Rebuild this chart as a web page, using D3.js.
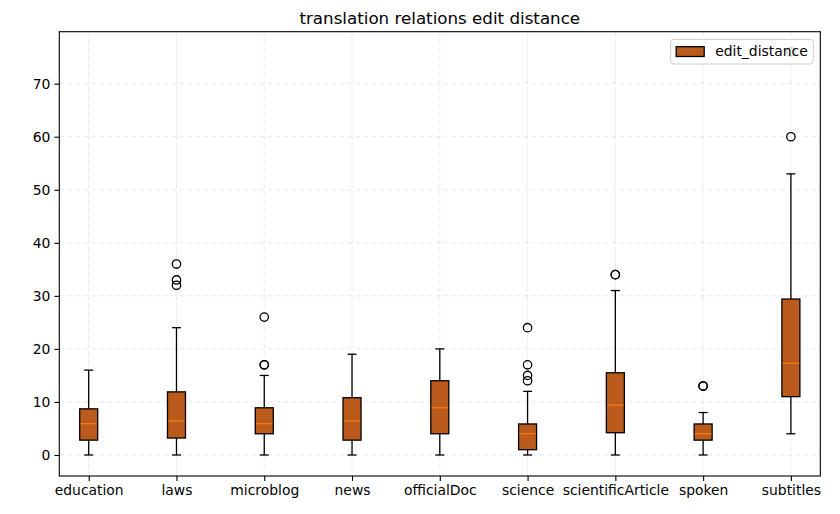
<!DOCTYPE html>
<html>
<head>
<meta charset="utf-8">
<script src="https://cdn.jsdelivr.net/npm/d3@7"></script>
<style>
  body { margin: 0; background: #fff; }
  svg { font-family: "DejaVu Sans", sans-serif; }
</style>
</head>
<body>
<div id="chart"></div>
<script>
// Data
var categories = ["education", "laws", "microblog", "news", "officialDoc", "science", "scientificArticle", "spoken", "subtitles"];
var q1 = [2.8, 3.2, 4, 2.8, 4, 1, 4.2, 2.8, 11];
var medians = [5.9, 6.4, 5.9, 6.4, 8.9, 4, 9.4, 4, 17.3];
var q3 = [8.7, 11.9, 8.9, 10.8, 14, 5.85, 15.5, 5.85, 29.4];
var whiskerLow = [0, 0, 0, 0, 0, 0, 0, 0, 4];
var whiskerHigh = [16, 24, 15, 19, 20, 12, 31, 8, 53];
var outliers = [[], [32, 33, 36], [17, 17, 26], [], [], [14, 15, 17, 24], [34, 34], [13, 13], [60, 76]];
var yTicks = [0, 10, 20, 30, 40, 50, 60, 70];

// Sizing
var width = 840;
var height = 514;
var margin = { top: 31.7, right: 19.7, bottom: 38, left: 59.3 };

var fillColor = "#ba5b1d";
var medianColor = "#ff7f0e";

var svg = d3.select("#chart")
    .append("svg")
    .attr("width", width)
    .attr("height", height);

var x = d3.scaleLinear()
    .domain([0.665, 9.335])
    .range([margin.left, width - margin.right]);

var y = d3.scaleLinear()
    .domain([-3.96, 79.8])
    .range([height - margin.bottom, margin.top]);

var boxW = 0.205;

// Grid
var grid = svg.append("g");
grid.selectAll(".gx")
    .data(categories)
    .enter()
    .append("line")
    .attr("x1", (d, i) => x(i + 1))
    .attr("x2", (d, i) => x(i + 1))
    .attr("y1", y.range()[0])
    .attr("y2", y.range()[1]);
grid.selectAll(".gy")
    .data(yTicks)
    .enter()
    .append("line")
    .attr("x1", x.range()[0])
    .attr("x2", x.range()[1])
    .attr("y1", d => y(d))
    .attr("y2", d => y(d));
grid.selectAll("line")
    .attr("stroke", "#b0b0b0")
    .attr("stroke-opacity", 0.35)
    .attr("stroke-width", 0.8)
    .attr("stroke-dasharray", "5,3");

// Boxes
var boxes = svg.selectAll(".box")
    .data(categories)
    .enter()
    .append("g")
    .attr("class", "box");

// whiskers
boxes.append("line")
    .attr("x1", (d, i) => x(i + 1)).attr("x2", (d, i) => x(i + 1))
    .attr("y1", (d, i) => y(whiskerLow[i])).attr("y2", (d, i) => y(q1[i]));
boxes.append("line")
    .attr("x1", (d, i) => x(i + 1)).attr("x2", (d, i) => x(i + 1))
    .attr("y1", (d, i) => y(q3[i])).attr("y2", (d, i) => y(whiskerHigh[i]));
// caps
boxes.append("line")
    .attr("x1", (d, i) => x(i + 1 - boxW / 4)).attr("x2", (d, i) => x(i + 1 + boxW / 4))
    .attr("y1", (d, i) => y(whiskerLow[i])).attr("y2", (d, i) => y(whiskerLow[i]));
boxes.append("line")
    .attr("x1", (d, i) => x(i + 1 - boxW / 4)).attr("x2", (d, i) => x(i + 1 + boxW / 4))
    .attr("y1", (d, i) => y(whiskerHigh[i])).attr("y2", (d, i) => y(whiskerHigh[i]));
boxes.selectAll("line")
    .attr("stroke", "#000")
    .attr("stroke-width", 1.3);

boxes.append("rect")
    .attr("x", (d, i) => x(i + 1 - boxW / 2))
    .attr("width", (d, i) => x(i + 1 + boxW / 2) - x(i + 1 - boxW / 2))
    .attr("y", (d, i) => y(q3[i]))
    .attr("height", (d, i) => y(q1[i]) - y(q3[i]))
    .attr("fill", fillColor)
    .attr("stroke", "#000")
    .attr("stroke-width", 1.3);

boxes.append("line")
    .attr("x1", (d, i) => x(i + 1 - boxW / 2) + 0.7).attr("x2", (d, i) => x(i + 1 + boxW / 2) - 0.7)
    .attr("y1", (d, i) => y(medians[i])).attr("y2", (d, i) => y(medians[i]))
    .attr("stroke", medianColor)
    .attr("stroke-width", 1.1);

// fliers
boxes.each(function (d, i) {
    d3.select(this).selectAll("circle")
        .data(outliers[i])
        .enter()
        .append("circle")
        .attr("cx", x(i + 1))
        .attr("cy", v => y(v))
        .attr("r", 4.2)
        .attr("fill", "none")
        .attr("stroke", "#000")
        .attr("stroke-width", 1.3);
});

// Axes
var xAxis = d3.axisBottom(x)
    .tickValues(d3.range(1, categories.length + 1))
    .tickFormat(d => categories[d - 1])
    .tickSize(4.9)
    .tickPadding(4);
var yAxis = d3.axisLeft(y)
    .tickValues(yTicks)
    .tickSize(4.9)
    .tickPadding(4);

var gx = svg.append("g")
    .attr("transform", `translate(0,${height - margin.bottom})`)
    .call(xAxis);
var gy = svg.append("g")
    .attr("transform", `translate(${margin.left},0)`)
    .call(yAxis);
[gx, gy].forEach(function (g) {
    g.select(".domain").remove();
    g.selectAll("line").attr("stroke", "#000").attr("stroke-width", 1.1);
    g.selectAll("text")
        .attr("fill", "#000")
        .style("font-family", "DejaVu Sans")
        .style("font-size", "13.9px");
});

// Frame
svg.append("rect")
    .attr("x", margin.left)
    .attr("y", margin.top)
    .attr("width", width - margin.left - margin.right)
    .attr("height", height - margin.top - margin.bottom)
    .attr("fill", "none")
    .attr("stroke", "#000")
    .attr("stroke-width", 1.1);

// Title
svg.append("text")
    .attr("x", (margin.left + width - margin.right) / 2)
    .attr("y", 24)
    .attr("text-anchor", "middle")
    .style("font-size", "16.7px")
    .text("translation relations edit distance");

// Legend
var legend = svg.append("g").attr("transform", "translate(670.7,39.3)");
legend.append("rect")
    .attr("width", 142.6)
    .attr("height", 24.7)
    .attr("rx", 3)
    .attr("fill", "#fff")
    .attr("fill-opacity", 0.8)
    .attr("stroke", "#cccccc")
    .attr("stroke-width", 1);
legend.append("rect")
    .attr("x", 5.5)
    .attr("y", 7.4)
    .attr("width", 28)
    .attr("height", 9.8)
    .attr("fill", fillColor)
    .attr("stroke", "#000")
    .attr("stroke-width", 1.3);
legend.append("text")
    .attr("x", 44.5)
    .attr("y", 17)
    .style("font-size", "13.9px")
    .text("edit_distance");
</script>
</body>
</html>
